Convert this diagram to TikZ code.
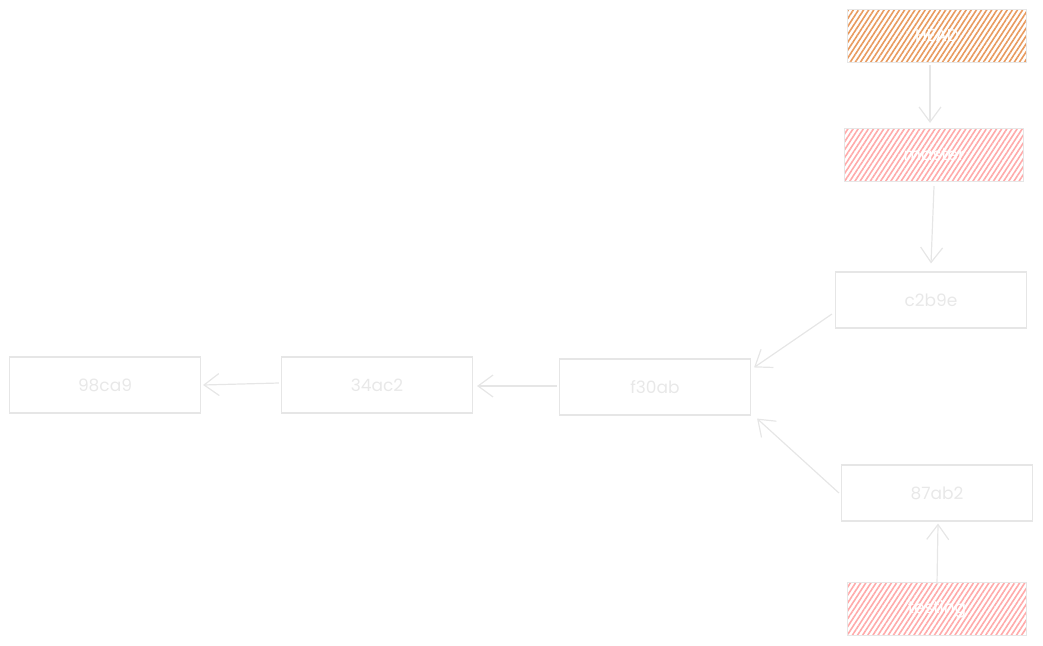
\documentclass[tikz,border=0pt]{standalone}
\usepackage{fontspec}
\setmainfont{Poppins}
\usetikzlibrary{arrows.meta,patterns.meta}
\definecolor{edge}{HTML}{E6E6E6}
\definecolor{txt}{HTML}{E8E8E8}
\definecolor{orangeh}{HTML}{E89A5E}
\definecolor{pinkh}{HTML}{FFAAAA}
\tikzset{
  commit/.style={draw=edge, line width=1.1pt, minimum width=191pt, minimum height=56pt, inner sep=0pt, text=txt, font=\fontsize{17}{20}\selectfont},
  refbox/.style={draw=edge, line width=1.1pt, minimum width=179pt, minimum height=53pt, inner sep=0pt, text=white, font=\fontsize{17}{20}\selectfont},
  orangefill/.style={pattern={Lines[angle=57,distance=4.3pt,line width=1.6pt]}, pattern color=orangeh},
  pinkfill/.style={pattern={Lines[angle=57,distance=4.3pt,line width=1.6pt]}, pattern color=pinkh},
  link/.style={draw=edge, line width=1.2pt, -{Straight Barb[length=15pt,width=22pt,line width=1.2pt]}}
}
\begin{document}
\begin{tikzpicture}[x=1pt,y=-1pt]
\useasboundingbox (0,0) rectangle (1043,645);
\node[refbox, orangefill] (head) at (937,36) {HEAD};
\node[refbox, pinkfill] (master) at (934,155) {master};
\node[commit] (c2b9e) at (931,300) {c2b9e};
\node[commit] (f30ab) at (655,387) {f30ab};
\node[commit] (a34ac2) at (377,385) {34ac2};
\node[commit] (a98ca9) at (105,385) {98ca9};
\node[commit] (a87ab2) at (937,493) {87ab2};
\node[refbox, pinkfill] (testing) at (937,609) {testing};
\draw[link] ([xshift=-7pt,yshift=-2pt]head.south) -- ([xshift=-4pt,yshift=5pt]master.north);
\draw[link] ([yshift=-4pt]master.south) -- ([yshift=8pt]c2b9e.north);
\draw[link] ([xshift=-3pt,yshift=-14pt]c2b9e.west) -- ([xshift=3pt,yshift=-9pt]f30ab.north east);
\draw[link] ([xshift=-2pt]a87ab2.west) -- ([xshift=6pt,yshift=-3pt]f30ab.south east);
\draw[link] ([yshift=-2pt]testing.north) -- ([xshift=1pt,yshift=-2pt]a87ab2.south);
\draw[link] ([xshift=-2pt,yshift=1pt]f30ab.west) -- ([xshift=4pt,yshift=-1pt]a34ac2.east);
\draw[link] ([xshift=-2pt,yshift=2pt]a34ac2.west) -- ([xshift=2pt]a98ca9.east);
\end{tikzpicture}
\end{document}
